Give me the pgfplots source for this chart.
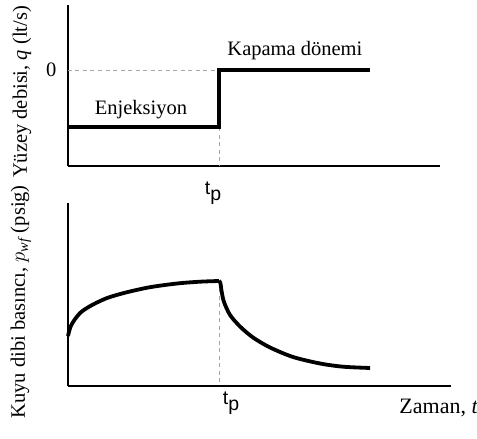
\documentclass[border=0pt]{standalone}
\usepackage{fontspec}
\setmainfont{Liberation Serif}
\setsansfont{Liberation Sans}
\usepackage{pgfplots}
\pgfplotsset{compat=1.18}

% time of the end of injection, set as t with a lowered p
\newcommand{\tp}{{\sffamily\fontsize{19.5}{21}\selectfont t\raisebox{-0.6ex}{p}}}

\pgfplotsset{
  schematic/.style={
    scale only axis,
    anchor=south west,
    axis lines=left,
    axis line style={-, line width=1.4pt},
    major tick length=0pt,
    clip=false,
    xmin=0,
    xtick={1},
    xticklabels={\tp},
  },
  guide/.style={gray!70, line width=0.7pt, dash pattern=on 4pt off 3.5pt, forget plot},
  curve/.style={black, line width=3.8pt, line join=miter, no marks},
}

\begin{document}
\begin{tikzpicture}[font=\fontsize{20.5}{24}\selectfont]
\path[use as bounding box] (0,0) rectangle (477pt,439pt);

% --- surface rate: injection, then shut-in ---
\begin{axis}[schematic,
  at={(68pt,273pt)}, width=372pt, height=161pt,
  xmax=2.464, ymin=-1.684, ymax=1.14,
  ytick={0}, yticklabels={0},
  yticklabel style={xshift=-8pt},
  xticklabel style={yshift=-12pt, xshift=-6pt},
  ylabel={Yüzey debisi, \textit{q} (lt/s)},
  ylabel style={at={(axis description cs:-0.124,0.46)}, anchor=center},
]
\addplot[guide] coordinates {(0,0) (1,0)};
\addplot[guide] coordinates {(1,-1) (1,-1.684)};
\addplot[curve] coordinates {(0,-1) (1,-1) (1,0) (2,0)};
\node at (axis cs:0.483,-0.70) {Enjeksiyon};
\node at (axis cs:1.503,0.333) {Kapama dönemi};
\end{axis}

% --- bottom-hole pressure response ---
\begin{axis}[schematic,
  at={(68pt,53pt)}, width=383pt, height=183pt,
  xmax=2.536, ymin=0, ymax=183,
  ytick=\empty,
  xticklabel style={yshift=-2pt, xshift=12pt},
  ylabel={Kuyu dibi basıncı, $p_{\mathit{wf}}$ (psig)},
  ylabel style={at={(axis description cs:-0.123,0.46)}, anchor=center},
  xlabel={Zaman, \textit{t}},
  xlabel style={at={(axis description cs:0.968,-0.12)}, anchor=center, font=\fontsize{22}{24}\selectfont},
]
\addplot[guide] coordinates {(1,105) (1,0)};
% injection period
\addplot[curve, smooth, tension=0.5] coordinates {
  (0,50) (0.015,58.5) (0.04,65.5) (0.08,73) (0.12,77.5) (0.166,81.5)
  (0.22,85.5) (0.278,89) (0.391,93.8) (0.543,98.8) (0.722,102.5)
  (0.874,104.3) (1.0,105)
};
% shut-in period
\addplot[curve, smooth, tension=0.5] coordinates {
  (1.0,105) (1.009,103) (1.018,94) (1.033,84) (1.073,71) (1.139,59.5)
  (1.225,48.5) (1.338,38.5) (1.49,29) (1.669,22.5) (1.821,19.3) (2.0,18)
};
\end{axis}
\end{tikzpicture}
\end{document}
